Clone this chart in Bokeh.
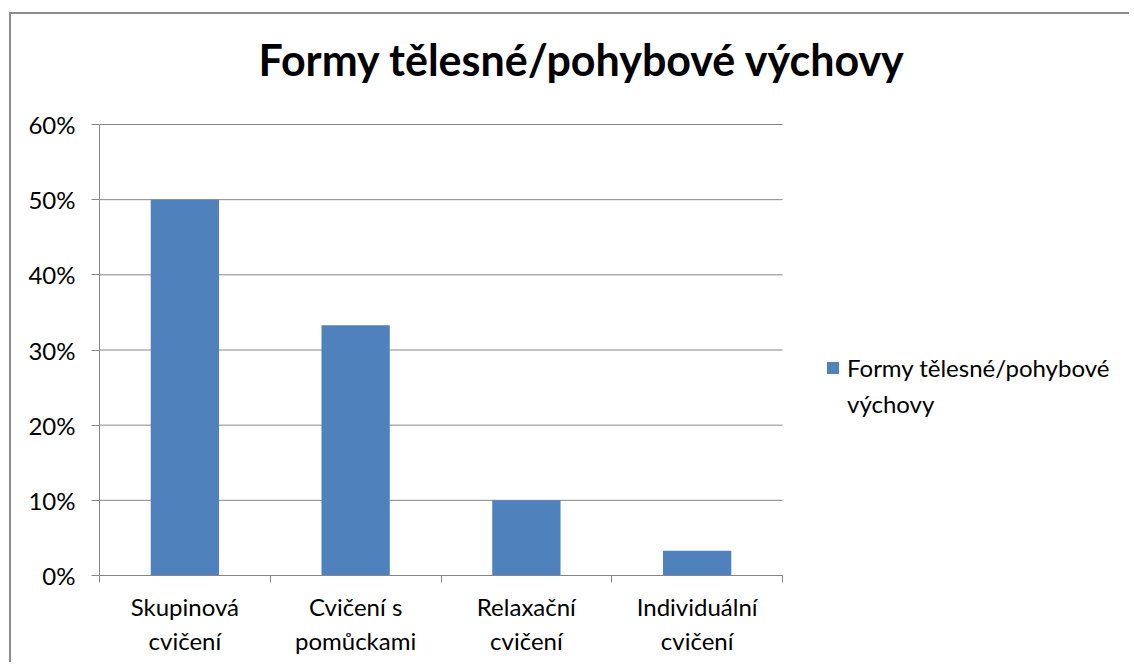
from bokeh.plotting import figure
from bokeh.models import (Range1d, FixedTicker, NumeralTickFormatter, LinearAxis,
                          Legend, LegendItem, ColumnDataSource)
from bokeh.embed import file_html
from bokeh.resources import INLINE

title_text = "Formy tělesné/pohybové výchovy"
series_name_line1 = "Formy tělesné/pohybové"
series_name_line2 = "výchovy"
categories = ["Skupinová\ncvičení", "Cvičení s\npomůckami", "Relaxační\ncvičení", "Individuální\ncvičení"]
values = [0.50, 0.333, 0.10, 0.033]
y_ticks = [0, 0.1, 0.2, 0.3, 0.4, 0.5, 0.6]

FONT = "Lato"
GRAY = "#868686"
BLUE = "#4F81BD"
TXT = "#000000"
FS = "24px"

# layout (pixels)
W, H = 1120, 650
LEFT, TOP, BOTTOM = 88, 88, 89
CAT_AREA_PX = 683          # width of the category area of the plot
VAL_AREA_PX = 451          # height of the 0..60 % area of the plot
frame_w = W - LEFT
frame_h = H - TOP - BOTTOM

n = len(categories)
y_max = y_ticks[-1]
x_pos = [i + 0.5 for i in range(n)]
x_end = n * frame_w / CAT_AREA_PX
y_end = y_max * frame_h / VAL_AREA_PX
src = ColumnDataSource(dict(x=x_pos, top=values))
grid_src = ColumnDataSource(dict(y=y_ticks, x0=[0] * len(y_ticks), x1=[n] * len(y_ticks)))

p = figure(width=W, height=H, x_range=Range1d(0, x_end), y_range=Range1d(0, y_end),
           output_backend="svg", toolbar_location=None,
           x_axis_type=None, y_axis_type=None,
           min_border_left=LEFT, min_border_right=0, min_border_top=TOP, min_border_bottom=BOTTOM)
p.outline_line_color = None
p.background_fill_color = "white"
p.border_fill_color = "white"
p.styles = {"position": "absolute", "top": "12px", "left": "9px",
            "border-top": "2px solid #8c8c8c", "border-left": "2px solid #8c8c8c"}

# title
p.title.text = title_text
p.title.align = "left"
p.title.offset = 159
p.title.standoff = 35
p.title.text_font = FONT
p.title.text_font_size = "43px"
p.title.text_font_style = "bold"
p.title.text_color = TXT

# horizontal grid lines over the category area
p.segment(x0="x0", x1="x1", y0="y", y1="y", source=grid_src, line_color=GRAY, line_width=1)

# y axis
yaxis = LinearAxis(ticker=FixedTicker(ticks=y_ticks), formatter=NumeralTickFormatter(format="0%"),
                   bounds=(0, y_max))
yaxis.axis_line_color = GRAY
yaxis.major_tick_line_color = GRAY
yaxis.major_tick_out = 8
yaxis.major_tick_in = 0
yaxis.minor_tick_line_color = None
yaxis.major_label_text_font = FONT
yaxis.major_label_text_font_size = FS
yaxis.major_label_text_color = TXT
yaxis.major_label_standoff = 16
p.add_layout(yaxis, "left")

# x axis: boundary ticks
xticks_b = list(range(n + 1))
xaxis1 = LinearAxis(ticker=FixedTicker(ticks=xticks_b), bounds=(0, n),
                    major_label_overrides={t: "" for t in xticks_b})
xaxis1.axis_line_color = GRAY
xaxis1.major_tick_line_color = GRAY
xaxis1.major_tick_out = 7
xaxis1.major_tick_in = 0
xaxis1.minor_tick_line_color = None
xaxis1.major_label_text_font_size = "1px"
xaxis1.major_label_standoff = 0
p.add_layout(xaxis1, "below")

# x axis: category labels
xaxis2 = LinearAxis(ticker=FixedTicker(ticks=x_pos), bounds=(0, n),
                    major_label_overrides={x: c for x, c in zip(x_pos, categories)})
xaxis2.axis_line_color = None
xaxis2.major_tick_line_color = None
xaxis2.minor_tick_line_color = None
xaxis2.major_label_text_font = FONT
xaxis2.major_label_text_font_size = FS
xaxis2.major_label_text_color = TXT
xaxis2.major_label_text_line_height = 1.2
xaxis2.major_label_standoff = 3
p.add_layout(xaxis2, "below")

bars = p.vbar(x="x", top="top", width=0.4, source=src, fill_color=BLUE, line_color=None)
bars_cont = p.vbar(x=[], top=[], width=0.4, fill_alpha=0, line_alpha=0)

legend = Legend(items=[LegendItem(label=series_name_line1, renderers=[bars]),
                       LegendItem(label=series_name_line2, renderers=[bars_cont])],
                location=(726, 157), padding=0, margin=0, spacing=7, border_line_color=None,
                background_fill_alpha=0, glyph_width=15, glyph_height=15, label_standoff=7,
                label_text_font=FONT, label_text_font_size=FS, label_text_color=TXT)
p.add_layout(legend)

open("out.html", "w").write(file_html(p, INLINE))
